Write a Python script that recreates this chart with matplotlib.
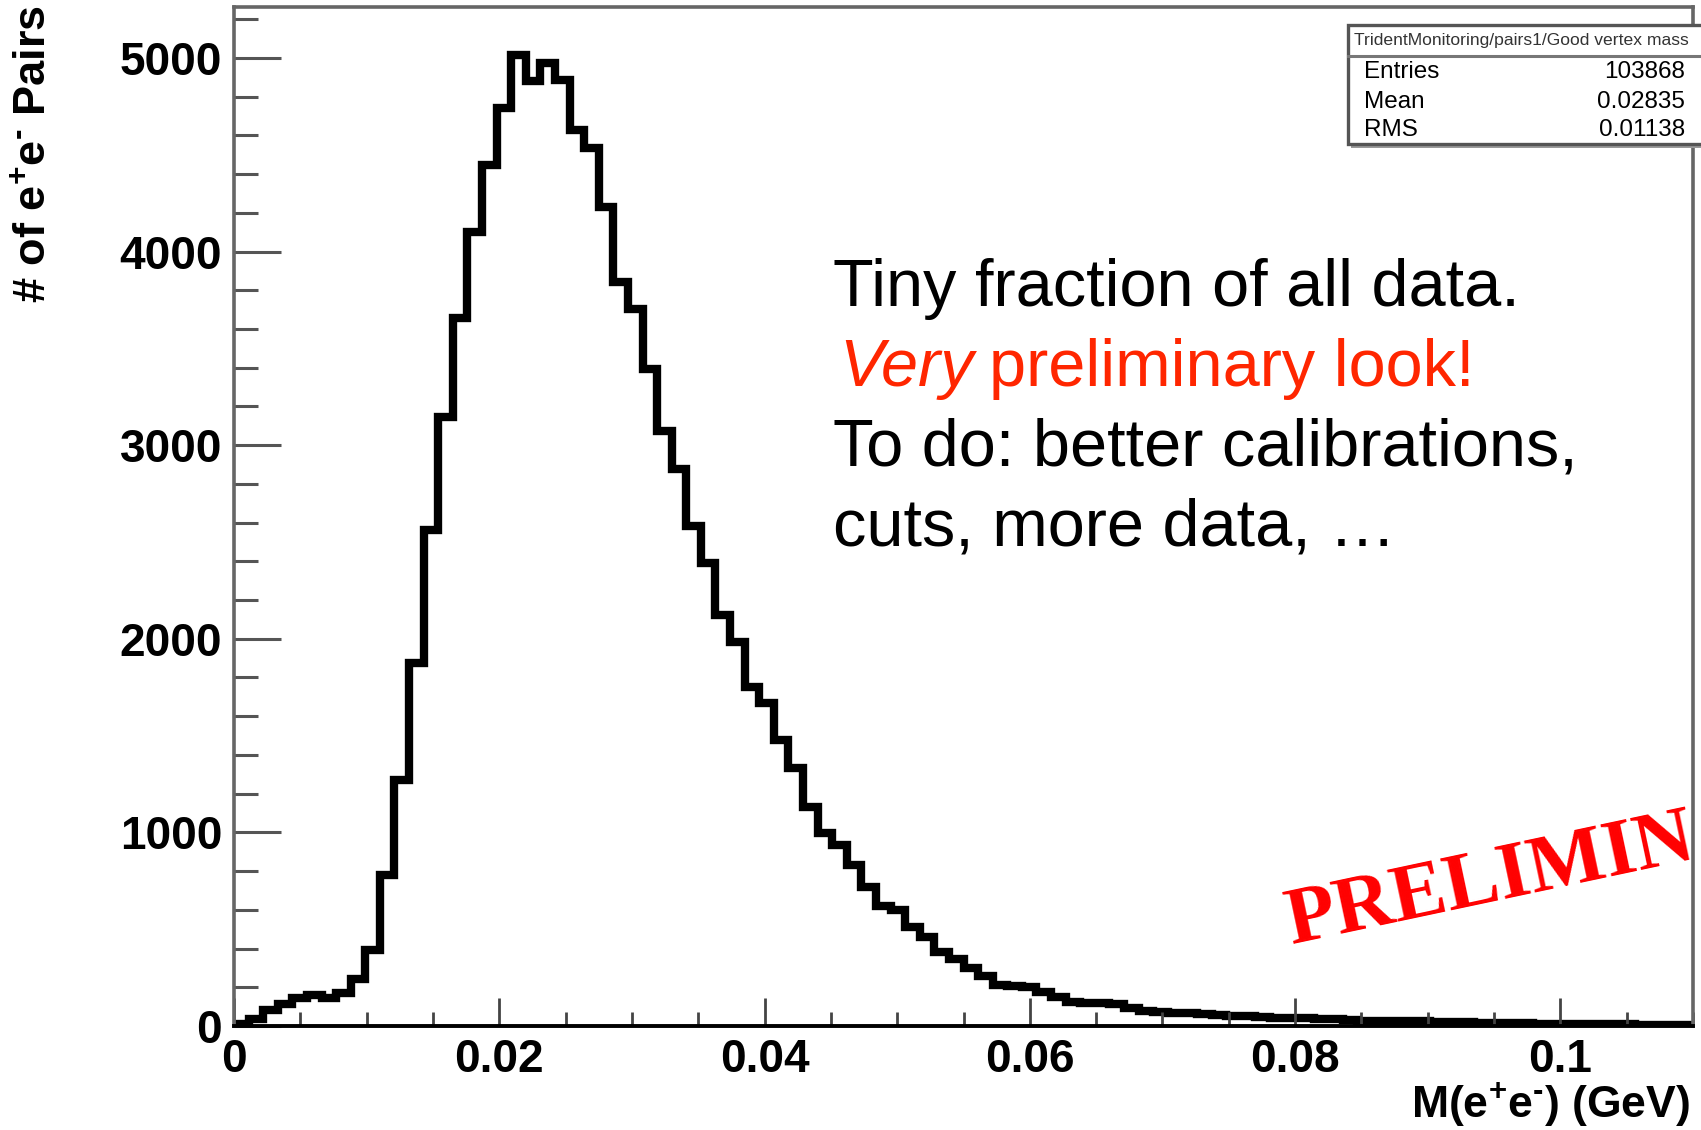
import numpy as np
import matplotlib.pyplot as plt
from matplotlib.patches import Rectangle
from matplotlib.ticker import MultipleLocator

plt.rcParams['font.family'] = ['Liberation Sans', 'DejaVu Sans']
plt.rcParams['mathtext.fontset'] = 'custom'
plt.rcParams['mathtext.rm'] = 'Liberation Sans:bold'
plt.rcParams['mathtext.bf'] = 'Liberation Sans:bold'

# histogram: TridentMonitoring/pairs1/Good vertex mass (100 bins, 0 - 0.11 GeV)
n_bins = 100
x_min, x_max = 0.0, 0.11
counts = [
    10, 36, 83, 114, 143, 160, 145, 169, 241, 393,
    780, 1271, 1873, 2562, 3144, 3655, 4100, 4447, 4740, 5015,
    4881, 4972, 4886, 4628, 4533, 4232, 3845, 3702, 3392, 3075,
    2876, 2584, 2390, 2123, 1985, 1753, 1667, 1477, 1331, 1133,
    995, 935, 832, 720, 620, 599, 513, 461, 384, 344,
    298, 258, 212, 205, 200, 177, 151, 126, 120, 118,
    112, 93, 80, 72, 68, 66, 62, 58, 53, 50,
    45, 43, 41, 40, 38, 36, 30, 28, 27, 26,
    25, 24, 20, 19, 19, 18, 17, 16, 15, 12,
    11, 10, 10, 9, 8, 8, 7, 7, 6, 6,
]
y_max = 5263

x_ticks = [0, 0.02, 0.04, 0.06, 0.08, 0.1]
x_tick_labels = ['0', '0.02', '0.04', '0.06', '0.08', '0.1']
y_ticks = [0, 1000, 2000, 3000, 4000, 5000]
y_tick_labels = ['0', '1000', '2000', '3000', '4000', '5000']

x_title = r'M(e$^{+}$e$^{\text{-}}$) (GeV)'
y_title = r'# of e$^{+}$e$^{\text{-}}$ Pairs'

stats_title = 'TridentMonitoring/pairs1/Good vertex mass'
stats_names = ['Entries', 'Mean', 'RMS']
stats_values = ['103868', '0.02835', '0.01138']

note_lines = ['Tiny fraction of all data.',
              'To do: better calibrations,',
              'cuts, more data, \u2026']
note_red = ['Very', 'preliminary look!']

W, H = 1701, 1130
fig = plt.figure(figsize=(W / 100, H / 100), dpi=100)
fig.patch.set_facecolor('white')

# frame of the ROOT pad
ax = fig.add_axes([234 / W, 1 - 1026 / H, (1693 - 234) / W, (1026 - 7) / H])
edges = np.linspace(x_min, x_max, n_bins + 1)
ax.stairs(counts, edges, color='black', lw=6, baseline=None)
ax.set_xlim(x_min, x_max)
ax.set_ylim(0, y_max)

ax.set_xticks(x_ticks, labels=x_tick_labels)
ax.set_yticks(y_ticks, labels=y_tick_labels)
ax.xaxis.set_minor_locator(MultipleLocator(0.005))
ax.yaxis.set_minor_locator(MultipleLocator(200))
ax.tick_params(axis='x', which='major', direction='in', length=20, width=2,
               color='#444444', pad=9, labelsize=33)
ax.tick_params(axis='x', which='minor', direction='in', length=10, width=2, color='#444444')
ax.tick_params(axis='y', which='major', direction='in', length=34, width=2.2,
               color='#555555', pad=8.5, labelsize=33)
ax.tick_params(axis='y', which='minor', direction='in', length=17, width=2.2, color='#555555')
for lbl in ax.get_xticklabels() + ax.get_yticklabels():
    lbl.set_fontweight('bold')

for side in ['top', 'right', 'left']:
    ax.spines[side].set_color('#666666')
    ax.spines[side].set_linewidth(2.6)
ax.spines['bottom'].set_color('black')
ax.spines['bottom'].set_linewidth(2.8)

fig.text(1690 / W, 1 - 1118 / H, x_title, ha='right', va='baseline',
         fontsize=32, fontweight='bold')
fig.text(34 / W, 1 - 5 / H, y_title, ha='center', va='top', rotation=90,
         fontsize=32.5, fontweight='bold')

# overlay in pixel coordinates for stats box, notes and stamp
ov = fig.add_axes([0, 0, 1, 1])
ov.set_xlim(0, W)
ov.set_ylim(H, 0)
ov.axis('off')
ov.patch.set_alpha(0)

# stats box
ov.add_patch(Rectangle((1351, 28), 360, 120, fc='#9a9a9a', ec='none'))
ov.add_patch(Rectangle((1348, 25), 360, 119, fc='white', ec='#555555', lw=2.4))
ov.plot([1348, W], [56, 56], color='#777777', lw=2.2)
ov.text(1354, 41, stats_title, fontsize=12.6, color='#333333', ha='left', va='center')
for i, (name, val) in enumerate(zip(stats_names, stats_values)):
    yy = [72, 102, 130][i]
    ov.text(1364, yy, name, fontsize=17.5, ha='left', va='center')
    ov.text(1685, yy, val, fontsize=17.5, ha='right', va='center')

# notes
ov.text(833, 306, note_lines[0], fontsize=48, ha='left', va='baseline')
ov.text(839, 386, note_red[0], fontsize=48, ha='left', va='baseline',
        color='#ff2600', style='italic')
ov.text(989, 386, note_red[1], fontsize=48, ha='left', va='baseline', color='#ff2600')
ov.text(833, 465, note_lines[1], fontsize=48, ha='left', va='baseline')
ov.text(833, 545, note_lines[2], fontsize=48, ha='left', va='baseline')

# preliminary stamp
ov.text(1292, 944, 'PRELIMIN', fontsize=58.5, fontweight='bold', family='Liberation Serif',
        color='#ff0000', rotation=12, rotation_mode='anchor', ha='left', va='baseline')

fig.savefig('out.png', dpi=100, facecolor='white')
